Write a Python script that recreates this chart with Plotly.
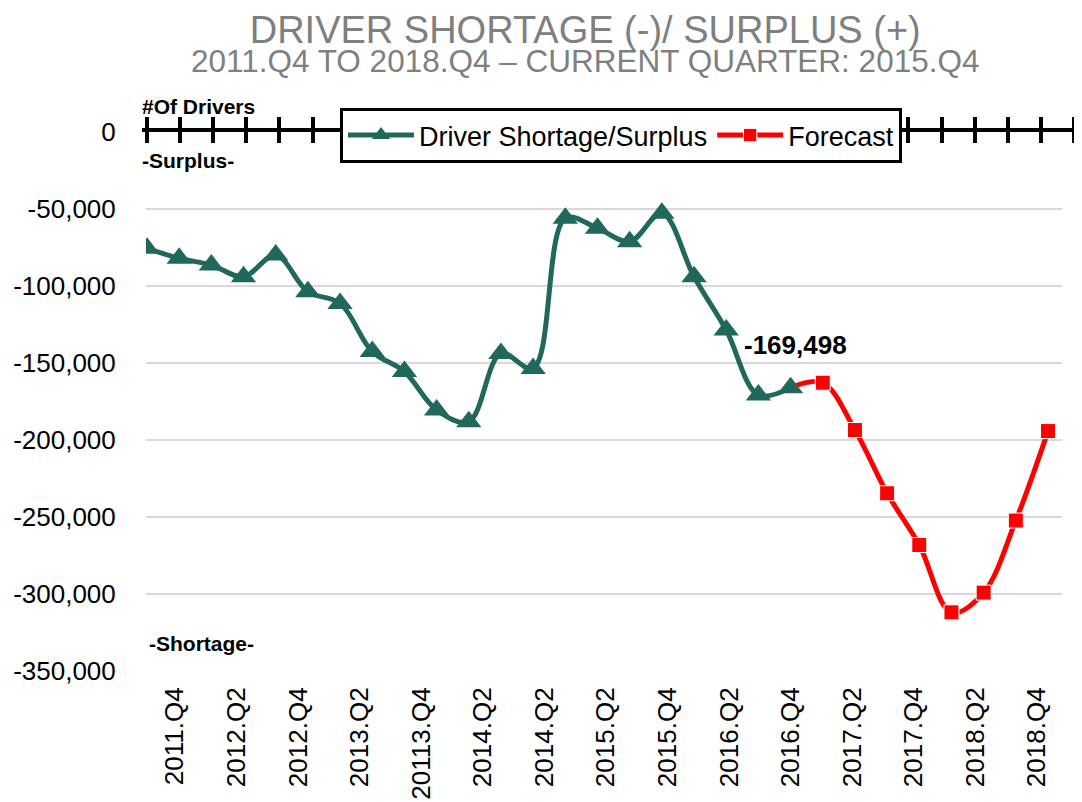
import plotly.graph_objects as go

# ---------------- data ----------------
quarter_index = list(range(29))  # 2011.Q4 ... 2018.Q4
actual_values = [-75500, -82000, -86400, -94000, -79900, -103700, -111300,
                 -142600, -155600, -180500, -188100, -143800, -153500, -56000,
                 -62500, -71200, -52800, -94000, -128600, -170800, -166000]
forecast_values = [-166000, -162800, -193500, -234600, -268200, -311900,
                   -299100, -252300, -194200]
axis_labels = ["2011.Q4", "2012.Q2", "2012.Q4", "2013.Q2", "20113.Q4",
               "2014.Q2", "2014.Q2", "2015.Q2", "2015.Q4", "2016.Q2",
               "2016.Q4", "2017.Q2", "2017.Q4", "2018.Q2", "2018.Q4"]
y_ticks = [0, -50000, -100000, -150000, -200000, -250000, -300000, -350000]
current_label_value = -169498
series_names = ["Driver Shortage/Surplus", "Forecast"]
title_text = "DRIVER SHORTAGE (-)/ SURPLUS (+)"
subtitle_text = "2011.Q4 TO 2018.Q4 \u2013 CURRENT QUARTER: 2015.Q4"

# ---------------- layout helpers ----------------
OFF = 8                      # page body margin
W, H = 1082 - OFF, 802 - OFF
PL, PR, PT, PB = 142, 1076, 132, 671   # plot box in page pixels
L, T = PL - OFF, PT - OFF
R, B = W - (PR - OFF), H - (PB - OFF)
PW, PH = W - L - R, H - T - B
def px_x(p): return (p - PL) / PW
def px_y(p): return (PB - p) / PH

TEAL = "#21685c"
RED = "#ff0000"
FONT = "Arial, Liberation Sans, sans-serif"

actual_x = quarter_index[:len(actual_values)]
forecast_x = quarter_index[len(actual_values) - 1:]
forecast_sizes = [0] + [15] * (len(forecast_values) - 1)

fig = go.Figure()
fig.add_trace(go.Scatter(
    x=forecast_x, y=forecast_values, mode="lines+markers", name=series_names[1],
    line=dict(color=RED, width=5, shape="spline", smoothing=1),
    marker=dict(symbol="square", size=forecast_sizes, color=RED, opacity=1),
    legendrank=2, hoverinfo="x+y"))
fig.add_trace(go.Scatter(
    x=actual_x, y=actual_values, mode="lines+markers", name=series_names[0],
    line=dict(color=TEAL, width=5, shape="spline", smoothing=1),
    marker=dict(symbol="triangle-up", size=22, color=TEAL, opacity=1),
    legendrank=1, hoverinfo="x+y"))
# carriers for the auxiliary axes
fig.add_trace(go.Scatter(x=[None], y=[None], xaxis="x2", yaxis="y2", showlegend=False, hoverinfo="skip"))
fig.add_trace(go.Scatter(x=[None], y=[None], xaxis="x3", yaxis="y2", showlegend=False, hoverinfo="skip"))
fig.add_trace(go.Scatter(x=[None], y=[None], xaxis="x4", yaxis="y", showlegend=False, hoverinfo="skip"))

# data axis geometry (page pixels)
pt_sp = (1048 - 147) / 28
xr0 = -(147 - 146) / pt_sp
xr1 = xr0 + (1062 - 146) / pt_sp
# zero-line tick axis geometry (own spacing)
tk_sp = (1074 - 147) / 28
tr0 = -(147 - PL) / tk_sp
tr1 = tr0 + PW / tk_sp
# bottom label axis geometry
lb_sp = (1037 - 175) / 14
lr0 = -(175 - 146) / lb_sp
lr1 = lr0 + (1062 - 146) / lb_sp

xdom = [px_x(146), px_x(1062)]

tick_axis = dict(domain=[0, 1], anchor="y2", side="top", range=[tr0, tr1],
                 tickmode="array", tickvals=quarter_index, showticklabels=False,
                 showgrid=False, zeroline=False, showline=True, linecolor="black",
                 linewidth=4, tickcolor="black", tickwidth=4, ticklen=11)

heading = (f"<span style='font-size:38px'>{title_text}</span><br>"
           f"<span style='font-size:31.5px'>{subtitle_text}</span>")

fig.update_layout(
    width=W, height=H,
    margin=dict(l=L, r=R, t=T, b=B, pad=0, autoexpand=False),
    paper_bgcolor="white", plot_bgcolor="rgba(0,0,0,0)",
    font=dict(family=FONT, color="black", size=26),
    showlegend=True,
    legend=dict(orientation="h", x=px_x(340), xanchor="left", y=px_y(108), yanchor="top",
                bgcolor="white", bordercolor="black", borderwidth=3,
                font=dict(size=27, family=FONT, color="black"), itemwidth=66,
                traceorder="normal"),
    xaxis=dict(domain=xdom, range=[xr0, xr1], visible=False, showgrid=False, zeroline=False),
    xaxis2=dict(tick_axis, ticks="outside"),
    xaxis3=dict(tick_axis, ticks="inside", overlaying="x2", showline=False),
    xaxis4=dict(overlaying="x", anchor="y", side="bottom", range=[lr0, lr1],
                tickmode="array", tickvals=list(range(len(axis_labels))), ticktext=axis_labels,
                tickangle=-90, ticks="outside", ticklen=0, ticklabelstandoff=5,
                tickfont=dict(size=26, family=FONT, color="black"),
                showgrid=False, zeroline=False, showline=False),
    yaxis=dict(domain=[0, 1], anchor="x", range=[-350000, 0], tickmode="array",
               tickvals=y_ticks, ticktext=[f"{v:,}" for v in y_ticks],
               showgrid=True, gridcolor="#d9d9d9", gridwidth=2, zeroline=False,
               showline=False, ticks="outside", ticklen=0, ticklabelstandoff=24,
               tickfont=dict(size=26, family=FONT, color="black")),
    yaxis2=dict(domain=[0, 1], anchor="x2", range=[-350000, 0], visible=False, showgrid=False),
    annotations=[
        dict(text=heading, xref="paper", yref="paper", x=px_x(585), y=px_y(7),
             xanchor="center", yanchor="top", align="center", showarrow=False,
             font=dict(size=22, family=FONT, color="#7f7f7f")),
        dict(text="<b>#Of Drivers</b>", xref="paper", yref="paper", x=px_x(140), y=px_y(106),
             xanchor="left", yanchor="middle", showarrow=False, font=dict(size=21, family=FONT)),
        dict(text="<b>-Surplus-</b>", xref="paper", yref="paper", x=px_x(140), y=px_y(160),
             xanchor="left", yanchor="middle", showarrow=False, font=dict(size=21, family=FONT)),
        dict(text="<b>-Shortage-</b>", xref="paper", yref="paper", x=px_x(147), y=px_y(643),
             xanchor="left", yanchor="middle", showarrow=False, font=dict(size=21, family=FONT)),
        dict(text=f"<b>{current_label_value:,}</b>", xref="x", yref="y",
             x=actual_x[-1], y=actual_values[-1], xshift=5, yshift=43,
             xanchor="center", yanchor="middle", showarrow=False, font=dict(size=26, family=FONT)),
    ],
)

fig.write_html("out.html")
